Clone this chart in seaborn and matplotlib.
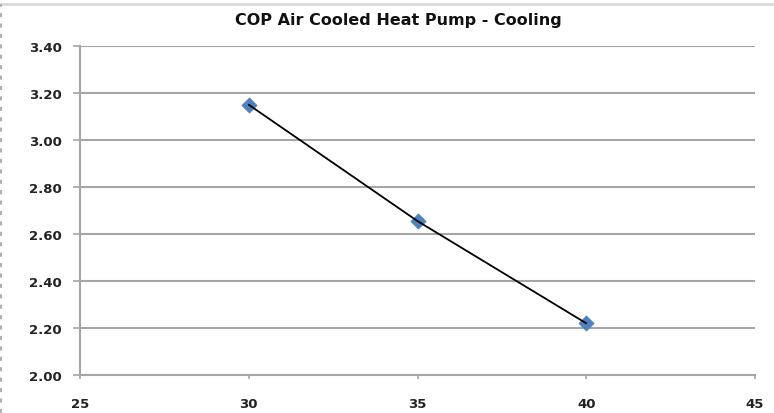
import matplotlib
matplotlib.use("Agg")
import matplotlib.pyplot as plt
import seaborn as sns
import pandas as pd
from matplotlib.lines import Line2D

temps = [30, 35, 40]
cop = [3.15, 2.655, 2.22]
x_ticks = [25, 30, 35, 40, 45]
y_ticks = [2.00, 2.20, 2.40, 2.60, 2.80, 3.00, 3.20, 3.40]
title = "COP Air Cooled Heat Pump - Cooling"

df = pd.DataFrame({"temp": temps, "cop": cop})

sns.set_theme(style="white")
plt.rcParams['font.family'] = ['DejaVu Sans']

fig = plt.figure(figsize=(7.74, 4.14), dpi=100)
ax = fig.add_axes([80/774, 1-376/414, (755-80)/774, (376-47)/414])

sns.lineplot(data=df, x="temp", y="cop", ax=ax, color="black", linewidth=1.3, zorder=3)
sns.scatterplot(data=df, x="temp", y="cop", ax=ax, marker="D", s=60, color="#4F81BD",
                edgecolor="#4F81BD", linewidth=0.5, zorder=2)

ax.set_xlim(25, 45)
ax.set_ylim(2.0, 3.4)
ax.set_xticks(x_ticks)
ax.set_yticks(y_ticks)
ax.set_xticklabels([str(v) for v in x_ticks], fontsize=9.5, fontweight="bold", color="#222222")
ax.set_yticklabels([f"{v:.2f}" for v in y_ticks], fontsize=9.5, fontweight="bold", color="#222222")
ax.set_xlabel("")
ax.set_ylabel("")

ax.yaxis.grid(True, color="#a6a6a6", linewidth=1.5)
ax.xaxis.grid(False)
ax.set_axisbelow(True)
for s in ["top", "right"]:
    ax.spines[s].set_visible(False)
for s in ["left", "bottom"]:
    ax.spines[s].set_color("#a6a6a6")
    ax.spines[s].set_linewidth(1.5)

ax.tick_params(axis="y", which="both", left=True, length=5, width=1.2, color="#a6a6a6", pad=8)
ax.tick_params(axis="x", which="both", bottom=True, length=3, width=1.2, color="#a6a6a6", pad=13)

fig.text(398/774, 1-20/414, title, ha="center", va="center", fontsize=11.5, fontweight="bold", color="#111111")

# outer chart frame hints
fig.add_artist(Line2D([0, 1], [1-5/414, 1-5/414], color="#d9d9d9", linewidth=2, transform=fig.transFigure))
fig.add_artist(Line2D([1/774, 1/774], [0, 1-5/414], color="#b0b0b0", linewidth=1.5,
                      linestyle=(0, (2, 3)), transform=fig.transFigure))

fig.savefig("out.png", dpi=100)
